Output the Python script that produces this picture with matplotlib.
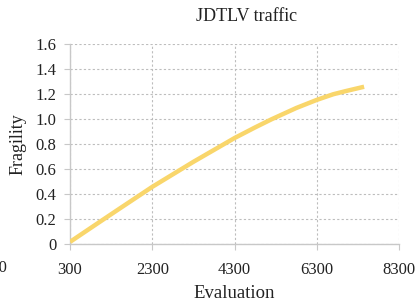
import numpy as np
import matplotlib.pyplot as plt
import matplotlib.transforms as mtransforms

# values
evaluation = [300, 1000, 1500, 2300, 2800, 3300, 3800, 4300, 4800,
              5200, 5800, 6300, 6700, 7000, 7450]
fragility = [0.02, 0.175, 0.285, 0.46, 0.56, 0.66, 0.755, 0.85, 0.935,
             1.00, 1.09, 1.155, 1.20, 1.225, 1.26]
xticks = [300, 2300, 4300, 6300, 8300]
yticks = [0, 0.2, 0.4, 0.6, 0.8, 1.0, 1.2, 1.4, 1.6]
ytick_labels = ['0', '0.2', '0.4', '0.6', '0.8', '1.0', '1.2', '1.4', '1.6']

plt.rcParams['font.family'] = ['Liberation Serif', 'DejaVu Serif']
plt.rcParams['font.size'] = 12

fig = plt.figure(figsize=(4.17, 3.07), dpi=100)
ax = fig.add_axes([0.168, 0.204, 0.789, 0.652])

ax.plot(evaluation, fragility, color='#F9D66B', lw=3.2, solid_capstyle='butt', zorder=3)

ax.set_xlim(300, 8300)
ax.set_ylim(0, 1.6)
ax.set_xticks(xticks)
ax.set_xticklabels([str(t) for t in xticks])
ax.set_yticks(yticks)
ax.set_yticklabels(ytick_labels)

ax.grid(True, linestyle=(0, (2, 2)), color='#BDBDBD', lw=0.8)
for s in ['top', 'right']:
    ax.spines[s].set_visible(False)
for s in ['left', 'bottom']:
    ax.spines[s].set_color('#C8C8C8')
    ax.spines[s].set_linewidth(1.0)
ax.tick_params(length=4, color='#C8C8C8', labelcolor='#222222', pad=9)
ax.tick_params(axis='y', pad=6)

# clipped tick label of the previous step, partly off the figure
trans = mtransforms.blended_transform_factory(ax.transData, ax.transAxes)
ax.text(-1700, -0.08, '-1700', transform=trans, ha='center', va='top',
        color='#222222', clip_on=False)

ax.set_title('JDTLV traffic', fontsize=13, color='#222222', x=0.535, pad=17)
ax.set_xlabel('Evaluation', fontsize=13.5, color='#222222', labelpad=5)
ax.set_ylabel('Fragility', fontsize=13, color='#222222', labelpad=6)

fig.savefig('out.png', dpi=100)
